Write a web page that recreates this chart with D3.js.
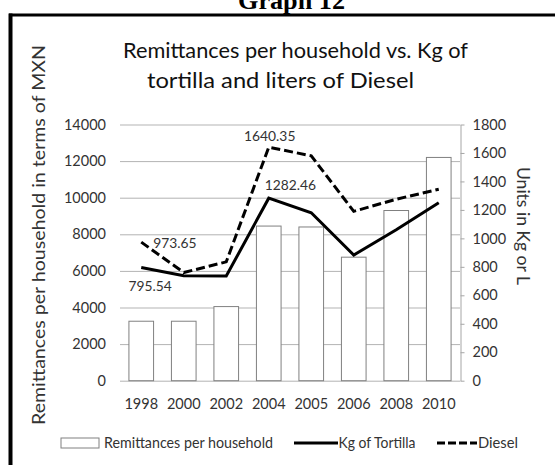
<!DOCTYPE html>
<html>
<head>
<meta charset="utf-8">
<script src="https://cdn.jsdelivr.net/npm/d3@7"></script>
<style>
  body { margin: 0; background: #fff; }
  svg text { font-family: Lato, "Open Sans", sans-serif; }
</style>
</head>
<body>
<div id="chart"></div>
<script>
// ---- data ----
const years = ["1998", "2000", "2002", "2004", "2005", "2006", "2008", "2010"];
const remittances = [3250, 3250, 4050, 8450, 8400, 6750, 9300, 12200];
const tortilla = [795.54, 738, 735, 1282.46, 1180, 883, 1060, 1250];
const diesel = [973.65, 760, 835, 1640.35, 1580, 1190, 1275, 1345];
const leftTicks = [0, 2000, 4000, 6000, 8000, 10000, 12000, 14000];
const rightTicks = [0, 200, 400, 600, 800, 1000, 1200, 1400, 1600, 1800];

const W = 555, H = 465;
const plot = { left: 120, right: 460, top: 124.5, bottom: 380.7 };
const textColor = "#333";

const svg = d3.select("#chart").append("svg")
    .attr("width", W)
    .attr("height", H);

// squeeze a text to the width it has in the picture (the source font is narrow)
function squeeze(sel, target) {
    return sel.attr("textLength", target).attr("lengthAdjust", "spacingAndGlyphs");
}

// frame of the page
svg.append("line")
    .attr("x1", 9).attr("x2", W).attr("y1", 15).attr("y2", 15)
    .attr("stroke", "#000").attr("stroke-width", 3);
svg.append("line")
    .attr("x1", 10.5).attr("x2", 10.5).attr("y1", 13.5).attr("y2", H)
    .attr("stroke", "#000").attr("stroke-width", 4);

// "Graph 12" heading (cut by the top edge, as in the scan)
squeeze(svg.append("text")
    .attr("x", 238).attr("y", 9)
    .attr("font-size", 25)
    .style("font-family", "'Liberation Serif', 'Times New Roman', serif")
    .attr("font-weight", "bold")
    .text("Graph 12"), 107);

// chart title
squeeze(svg.append("text")
    .attr("x", 123).attr("y", 58)
    .attr("font-size", 21)
    .attr("fill", "#111")
    .text("Remittances per household vs. Kg of"), 345);
squeeze(svg.append("text")
    .attr("x", 147).attr("y", 88)
    .attr("font-size", 21)
    .attr("fill", "#111")
    .text("tortilla and liters of Diesel"), 267);

// ---- scales ----
const x = d3.scaleBand()
    .domain(years)
    .range([plot.left, plot.right])
    .paddingInner(0.42)
    .paddingOuter(0.21);
const yL = d3.scaleLinear().domain([0, 14000]).range([plot.bottom, plot.top]);
const yR = d3.scaleLinear().domain([0, 1800]).range([plot.bottom, plot.top]);
const cx = d => x(d) + x.bandwidth() / 2;

const styleTicks = g => g.selectAll("text")
    .attr("font-size", 14.5)
    .attr("fill", textColor)
    .style("font-family", "Lato, sans-serif");

// gridlines
svg.append("g")
    .attr("transform", `translate(${plot.left},0)`)
    .call(d3.axisLeft(yL).tickValues(leftTicks)
        .tickSize(-(plot.right - plot.left)).tickFormat(""))
    .call(g => g.select(".domain").remove())
    .call(g => g.selectAll("line").attr("stroke", "#b3b3b3").attr("stroke-width", 1));

// left axis labels
svg.append("g")
    .attr("transform", `translate(${plot.left},0)`)
    .call(d3.axisLeft(yL).tickValues(leftTicks).tickSize(0).tickPadding(14)
        .tickFormat(d3.format("d")))
    .call(g => g.select(".domain").remove())
    .call(styleTicks);

// bars
svg.append("g").selectAll("rect")
    .data(remittances)
    .join("rect")
    .attr("x", (d, i) => x(years[i]))
    .attr("y", d => yL(d))
    .attr("width", x.bandwidth())
    .attr("height", d => yL(0) - yL(d))
    .attr("fill", "#fff")
    .attr("stroke", "#808080")
    .attr("stroke-width", 1);

// right axis
svg.append("g")
    .attr("transform", `translate(${plot.right + 0.5},0)`)
    .call(d3.axisRight(yR).tickValues(rightTicks).tickSizeInner(4).tickSizeOuter(0)
        .tickPadding(8).tickFormat(d3.format("d")))
    .call(g => g.select(".domain").attr("stroke", "#a6a6a6"))
    .call(g => g.selectAll(".tick line").attr("stroke", "#a6a6a6"))
    .call(styleTicks);

// x axis labels
svg.append("g")
    .attr("transform", `translate(0,${plot.bottom})`)
    .call(d3.axisBottom(x).tickSize(0).tickPadding(18))
    .call(g => g.select(".domain").remove())
    .call(styleTicks);

// lines
const line = d3.line().x((d, i) => cx(years[i])).y(d => yR(d));
svg.append("path")
    .datum(tortilla)
    .attr("d", line)
    .attr("fill", "none")
    .attr("stroke", "#000")
    .attr("stroke-width", 3);
svg.append("path")
    .datum(diesel)
    .attr("d", line)
    .attr("fill", "none")
    .attr("stroke", "#000")
    .attr("stroke-width", 3)
    .attr("stroke-dasharray", "9,4");

// data labels
const labels = [
    { series: diesel, i: 0, dx: 12, dy: 1, anchor: "start" },
    { series: tortilla, i: 0, dx: 9, dy: 19, anchor: "middle" },
    { series: diesel, i: 3, dx: 1, dy: -11, anchor: "middle" },
    { series: tortilla, i: 3, dx: -4, dy: -13, anchor: "start" }
];
svg.append("g").selectAll("text")
    .data(labels)
    .join("text")
    .attr("x", d => cx(years[d.i]) + d.dx)
    .attr("y", d => yR(d.series[d.i]) + d.dy)
    .attr("dy", "0.36em")
    .attr("text-anchor", d => d.anchor)
    .attr("font-size", 13.8)
    .attr("fill", textColor)
    .text(d => d.series[d.i]);

// axis titles
squeeze(svg.append("text")
    .attr("transform", "translate(39,235) rotate(-90)")
    .attr("text-anchor", "middle")
    .attr("dy", "0.36em")
    .attr("font-size", 17.5)
    .attr("fill", textColor)
    .text("Remittances per household in terms of MXN"), 380);
squeeze(svg.append("text")
    .attr("transform", "translate(523,226) rotate(90)")
    .attr("text-anchor", "middle")
    .attr("dy", "0.36em")
    .attr("font-size", 17.5)
    .attr("fill", textColor)
    .text("Units in Kg or L"), 118);

// legend
const legend = svg.append("g");
legend.append("rect")
    .attr("x", 61).attr("y", 438).attr("width", 38).attr("height", 10)
    .attr("fill", "#fff").attr("stroke", "#808080");
squeeze(legend.append("text")
    .attr("x", 104).attr("y", 443).attr("dy", "0.36em")
    .attr("font-size", 15).attr("fill", textColor)
    .text("Remittances per household"), 169);
legend.append("line")
    .attr("x1", 294).attr("x2", 338).attr("y1", 443).attr("y2", 443)
    .attr("stroke", "#000").attr("stroke-width", 3);
squeeze(legend.append("text")
    .attr("x", 338.5).attr("y", 443).attr("dy", "0.36em")
    .attr("font-size", 15).attr("fill", textColor)
    .text("Kg of Tortilla"), 77);
legend.append("line")
    .attr("x1", 437).attr("x2", 477).attr("y1", 443).attr("y2", 443)
    .attr("stroke", "#000").attr("stroke-width", 3)
    .attr("stroke-dasharray", "8,3");
squeeze(legend.append("text")
    .attr("x", 478).attr("y", 443).attr("dy", "0.36em")
    .attr("font-size", 15).attr("fill", textColor)
    .text("Diesel"), 40);
</script>
</body>
</html>
